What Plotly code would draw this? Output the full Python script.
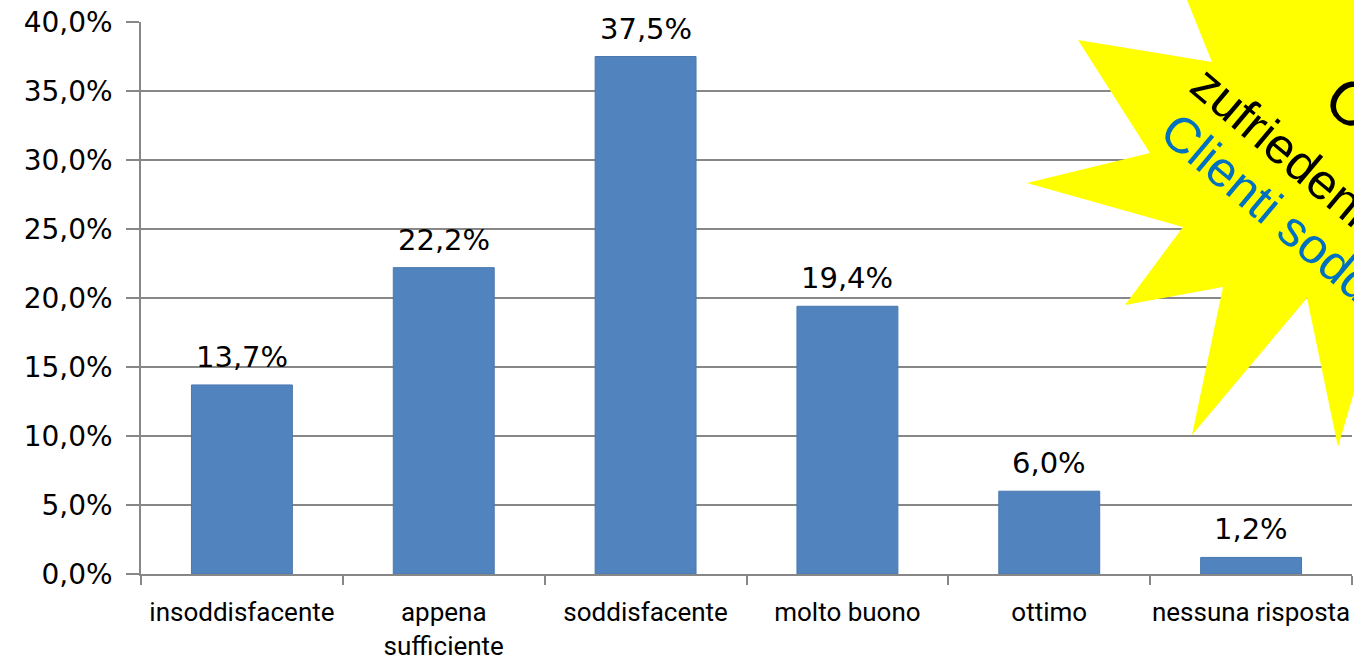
import plotly.graph_objects as go

categories = ["insoddisfacente", "appena<br>sufficiente", "soddisfacente",
              "molto buono", "ottimo", "nessuna risposta"]
values = [13.7, 22.2, 37.5, 19.4, 6.0, 1.2]
y_ticks = [0, 5, 10, 15, 20, 25, 30, 35, 40]
y_tick_labels = ["0,0%", "5,0%", "10,0%", "15,0%", "20,0%", "25,0%", "30,0%", "35,0%", "40,0%"]

W, H = 1354, 661
L, R, T, B = 141, 2, 22, 87
PW, PH = W - L - R, H - T - B


def px(x):
    return (x - L) / PW


def py(y):
    return (H - B - y) / PH


fig = go.Figure()
fig.add_trace(go.Bar(
    x=categories, y=values,
    marker=dict(color="#5183BF", line=dict(color="#4A78AE", width=1)),
    width=0.5,
    hoverinfo="skip",
))

for c, v in zip(categories, values):
    fig.add_annotation(x=c, y=v, xref="x", yref="y", text=f"{v:.1f}".replace(".", ",") + "%",
                       showarrow=False, yanchor="bottom", yshift=9,
                       font=dict(family="DejaVu Sans", size=29, color="#000000"))

# star decoration (pixel outline converted to paper coords)
star_px = [(1179, -20), (1212, 62), (1078, 40), (1150, 153), (1027, 183),
           (1183, 227), (1125, 305), (1223, 287), (1192, 435), (1307, 298),
           (1338, 447), (1375, 320), (1430, 250), (1430, -20), (1355, -20)]
path = "M " + " L ".join(f"{px(a):.5f},{py(b):.5f}" for a, b in star_px) + " Z"
fig.add_shape(type="path", path=path, xref="paper", yref="paper",
              fillcolor="#FFFF00", line=dict(width=0), layer="above")

ang = 40
star_texts = [
    ("Customer", 62, "#000000", (1437, 174)),
    ("zufriedenheit", 50, "#000000", (1308, 169)),
    ("Clienti soddisfatti", 50, "#0070C0", (1313, 245)),
]
for txt, size, col, (cx, cy) in star_texts:
    fig.add_annotation(text=txt, x=px(cx), y=py(cy), xref="paper", yref="paper",
                       showarrow=False, textangle=ang, xanchor="center", yanchor="middle",
                       font=dict(family="Liberation Sans", size=size, color=col))

fig.update_layout(
    width=W, height=H,
    margin=dict(l=L, r=R, t=T, b=B, autoexpand=False),
    paper_bgcolor="white", plot_bgcolor="white",
    showlegend=False,
    bargap=0.5,
)
fig.update_yaxes(
    range=[0, 40], tickvals=y_ticks, ticktext=y_tick_labels,
    showgrid=True, gridcolor="#878787", gridwidth=1.5,
    showline=True, linecolor="#878787", linewidth=1.5,
    ticks="outside", ticklen=13, tickcolor="#878787", tickwidth=1.5,
    tickfont=dict(family="DejaVu Sans", size=28, color="#000000"),
    ticklabelstandoff=8, zeroline=False, automargin=False,
    ticklabeloverflow="allow",
)
fig.update_xaxes(
    showline=True, linecolor="#878787", linewidth=1.5,
    ticks="outside", tickson="boundaries", ticklen=9, tickcolor="#878787", tickwidth=1.5,
    tickfont=dict(family="Roboto", size=26, color="#000000"),
    ticklabelstandoff=14, tickangle=0, automargin=False,
    ticklabeloverflow="allow",
)

fig.write_html("out.html", default_width=f"{W}px", default_height=f"{H}px",
               config={"displayModeBar": False},
               post_script="document.body.style.margin='0px';document.body.style.overflow='hidden';")
